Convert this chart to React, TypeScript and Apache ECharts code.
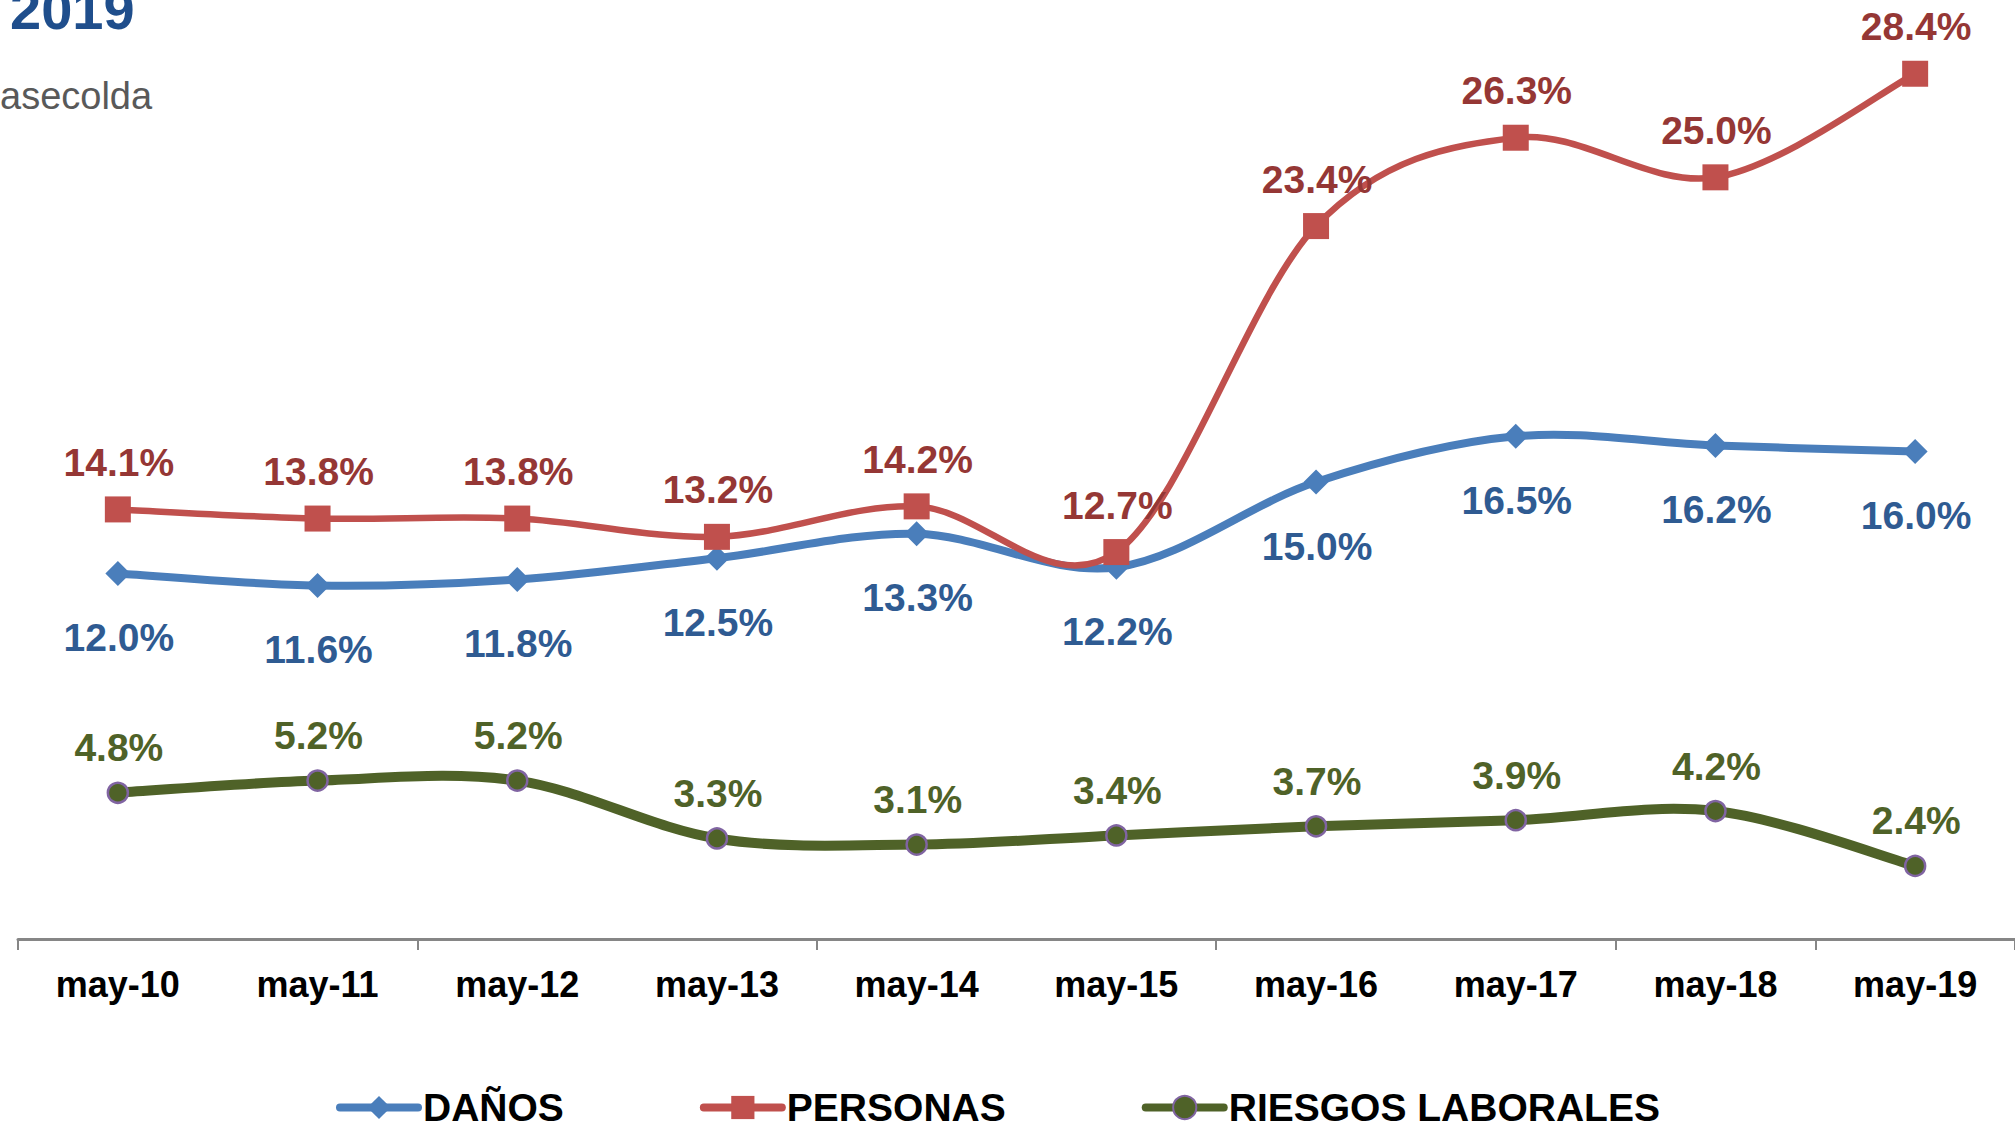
import React, { useEffect, useRef } from "react";
import * as echarts from "echarts";

const categories = ["may-10", "may-11", "may-12", "may-13", "may-14", "may-15", "may-16", "may-17", "may-18", "may-19"];
const danos = [12.0, 11.6, 11.8, 12.5, 13.3, 12.2, 15.0, 16.5, 16.2, 16.0];
const personas = [14.1, 13.8, 13.8, 13.2, 14.2, 12.7, 23.4, 26.3, 25.0, 28.4];
const riesgos = [4.8, 5.2, 5.2, 3.3, 3.1, 3.4, 3.7, 3.9, 4.2, 2.4];
const seriesNames = ["DAÑOS", "PERSONAS", "RIESGOS LABORALES"];
const titleText = "2019";
const sourceText = "asecolda";

const FONT = "'Liberation Sans', Arial, sans-serif";

const BLUE = "#4A7EBB";
const RED = "#C0504D";
const OLIVE = "#4F6228";

// Excel-like smoothed segment (Catmull-Rom) drawn through the chart's own scales
function smoothRenderer(values: number[], color: string, width: number) {
  return (params: any, api: any) => {
    const i = params.dataIndex;
    const n = values.length;
    if (i >= n - 1) return null;
    const pt = (j: number) => {
      const k = Math.max(0, Math.min(n - 1, j));
      return api.coord([k, values[k]]);
    };
    const p0 = pt(i - 1);
    const p1 = pt(i);
    const p2 = pt(i + 1);
    const p3 = pt(i + 2);
    const t = 1 / 6;
    return {
      type: "bezierCurve",
      shape: {
        x1: p1[0],
        y1: p1[1],
        x2: p2[0],
        y2: p2[1],
        cpx1: p1[0] + (p2[0] - p0[0]) * t,
        cpy1: p1[1] + (p2[1] - p0[1]) * t,
        cpx2: p2[0] - (p3[0] - p1[0]) * t,
        cpy2: p2[1] - (p3[1] - p1[1]) * t,
      },
      style: { stroke: color, lineWidth: width, fill: "none", lineCap: "round" },
      silent: true,
    };
  };
}

export default function App() {
  const ref = useRef<HTMLDivElement>(null);
  useEffect(() => {
    if (!ref.current) return;
    const chart = echarts.init(ref.current, null, { renderer: "svg" });
    const fmt = (p: any) => Number(p.value).toFixed(1) + "%";
    const lbl = (color: string, dy: number) => ({
      show: true,
      position: "inside" as const,
      offset: [1, dy],
      formatter: fmt,
      color,
      fontFamily: FONT,
      fontWeight: "bold" as const,
      fontSize: 39,
    });
    const curve = (values: number[], color: string, width: number, z: number) => ({
      type: "custom",
      coordinateSystem: "cartesian2d",
      data: values.map((v, i) => [i, v]),
      renderItem: smoothRenderer(values, color, width),
      silent: true,
      z,
    });
    chart.setOption({
      animation: false,
      backgroundColor: "#ffffff",
      grid: { left: 18, right: 0, top: 25, bottom: 190, containLabel: false },
      xAxis: {
        type: "category",
        data: categories,
        boundaryGap: true,
        axisLine: { show: true, lineStyle: { color: "#868686", width: 3 } },
        axisTick: { show: true, interval: 1, length: 11, lineStyle: { color: "#868686", width: 2 } },
        axisLabel: {
          interval: 0,
          margin: 27,
          color: "#000000",
          fontFamily: FONT,
          fontWeight: "bold",
          fontSize: 36,
        },
        splitLine: { show: false },
      },
      yAxis: { type: "value", min: 0, max: 30, show: false, splitLine: { show: false } },
      legend: {
        left: 331,
        top: 1083,
        itemWidth: 78,
        itemHeight: 29,
        itemGap: 136,
        data: seriesNames,
        lineStyle: { width: 8, opacity: 1, cap: "round" },
        textStyle: { color: "#000000", fontFamily: FONT, fontWeight: "bold", fontSize: 39 },
      },
      graphic: [
        {
          type: "text",
          left: 10,
          top: -19,
          style: { text: titleText, fill: "#1F4E8C", font: `bold 56px ${FONT}` },
        },
        {
          type: "text",
          x: 0,
          y: 96,
          style: {
            text: sourceText,
            fill: "#595959",
            font: `38px ${FONT}`,
            textAlign: "left",
            textVerticalAlign: "middle",
          },
        },
      ],
      series: [
        curve(riesgos, OLIVE, 10, 1),
        curve(danos, BLUE, 8, 2),
        curve(personas, RED, 6.5, 3),
        {
          name: seriesNames[0],
          type: "line",
          data: danos,
          symbol: "diamond",
          symbolSize: 25,
          itemStyle: { color: BLUE },
          lineStyle: { color: BLUE, width: 8, opacity: 0 },
          label: lbl("#2F5B92", 64),
          z: 4,
        },
        {
          name: seriesNames[1],
          type: "line",
          data: personas,
          symbol: "rect",
          symbolSize: 26,
          itemStyle: { color: RED },
          lineStyle: { color: RED, width: 7, opacity: 0 },
          label: lbl("#953735", -47),
          z: 5,
        },
        {
          name: seriesNames[2],
          type: "line",
          data: riesgos,
          symbol: "circle",
          symbolSize: 20,
          itemStyle: { color: OLIVE, borderColor: "#8064A2", borderWidth: 2.5 },
          lineStyle: { color: OLIVE, width: 10, opacity: 0 },
          label: lbl("#4F6228", -45),
          z: 4,
        },
      ],
    });
    return () => chart.dispose();
  }, []);
  return (
    <div
      ref={ref}
      style={{ position: "absolute", left: 0, top: 0, width: 2015, height: 1129, background: "#fff" }}
    />
  );
}
